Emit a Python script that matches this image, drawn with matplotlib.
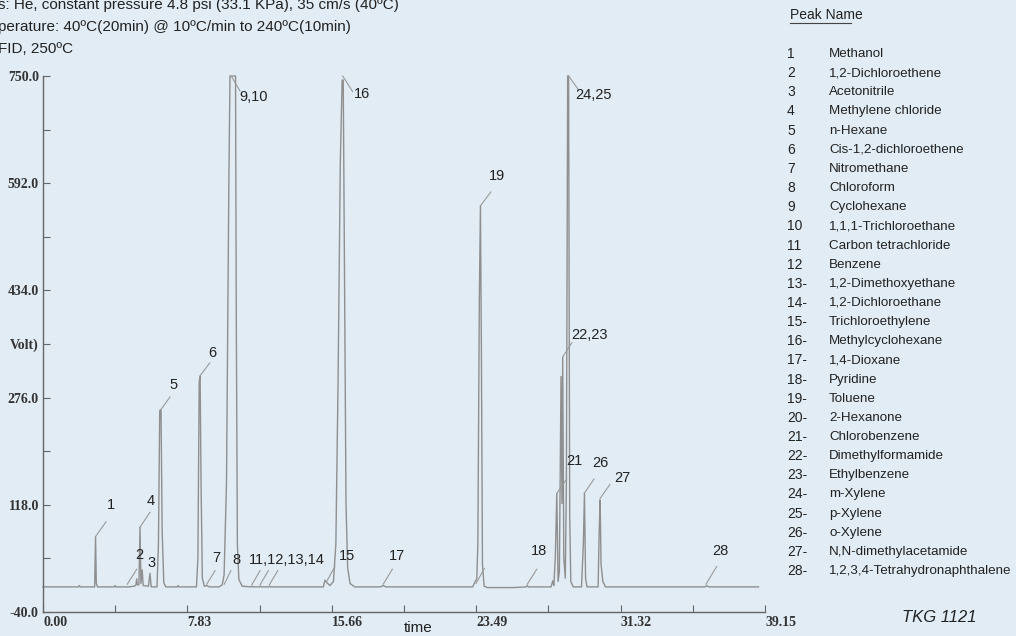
import matplotlib
matplotlib.use('Agg')
import matplotlib.pyplot as plt
from matplotlib.lines import Line2D

# chromatogram trace (time in min, signal in mV)
trace_t = [0.00, 1.92, 1.97, 2.02, 2.80, 2.85, 2.89, 2.96, 3.86, 3.90, 3.94,
           4.60, 4.95, 5.04, 5.08, 5.12, 5.20, 5.26, 5.31, 5.38, 5.43, 5.72, 5.80, 5.87,
           6.18, 6.26, 6.33, 6.40, 6.46, 6.55, 6.66, 7.28, 7.32, 7.36,
           8.32, 8.40, 8.47, 8.52, 8.57, 8.64, 8.75, 8.90, 9.00,
           9.55, 9.72, 9.82, 9.95, 10.08, 10.14, 10.44, 10.48, 10.54, 10.62, 10.80,
           11.30, 11.35, 11.40, 11.75, 11.80, 11.85, 12.25, 12.30, 12.35,
           15.20, 15.29, 15.40, 15.56, 15.75, 15.88, 16.00, 16.12, 16.22, 16.28,
           16.35, 16.43, 16.52, 16.65, 16.90, 18.30, 18.45, 18.60,
           23.30, 23.45, 23.52, 23.58, 23.66, 23.72, 23.77, 23.83, 23.92, 24.10,
           25.50, 26.20, 26.26, 26.32, 27.55, 27.64, 27.70, 27.78, 27.86, 27.93,
           28.00, 28.09, 28.14, 28.18, 28.24, 28.32, 28.38, 28.45, 28.50, 28.56,
           28.62, 28.75, 29.20, 29.30, 29.36, 29.42, 29.50,
           30.10, 30.16, 30.21, 30.26, 30.36, 30.50, 35.90, 36.00, 36.10, 38.80]
trace_v = [-3, -3, -1, -3, -3, 71, 2, -3, -3, -1, -3,
           -3, -2, 0, 9, 0, 0, 85, 2, 22, -1, -2, 17, -3,
           -3, 60, 257, 258, 80, 3, -3, -3, -1, -3,
           -3, 40, 300, 307, 150, 10, -2, -1, -3,
           -3, 0, 15, 150, 600, 750, 750, 400, 60, 8, -2,
           -3, -2, -3, -3, -2, -3, -3, -2, -3,
           -3, 7, 3, -1, 5, 60, 300, 620, 744, 744,
           450, 120, 25, 2, -3, -3, -1, -3,
           -3, 6, 8, 60, 420, 559, 350, 30, -2, -4,
           -4, -3, -1, -3, -3, 6, -1, 40, 135, 5,
           20, 307, 120, 336, 40, 10, 150, 750, 750, 100,
           5, -3, -3, 60, 135, 10, -3,
           -3, 80, 125, 30, 5, -3, -3, -1, -3, -3]

# peak labels: text position and leader line (tip -> end)
lab_text = ['1', '2', '3', '4', '5', '6', '7', '8', '9,10', '11,12,13,14',
            '15', '16', '17', '18', '19', '21', '22,23', '24,25', '26', '27', '28']
lab_x = [3.67, 5.22, 5.86, 5.84, 7.07, 9.20, 9.42, 10.50, 11.40, 13.21,
         16.47, 17.28, 19.21, 26.90, 24.60, 28.81, 29.61, 29.84, 30.20, 31.43, 36.71]
lab_y = [118, 44, 32, 124, 295, 342, 40, 37, 719, 37,
         43, 724, 43, 50, 602, 182, 368, 722, 179, 157, 50]
lead_x0 = [2.87, 4.57, 5.26, 6.38, 8.51, 8.88, 9.83, 10.23, 11.32, 11.77, 12.27,
           15.38, 16.25, 18.45, 26.26, 23.73, 23.48, 27.86, 28.20, 28.50, 29.35, 30.20, 35.95]
lead_y0 = [72, 1, 85, 258, 308, 1, 1, 749, 0, 0, 0,
           5, 750, 1, 1, 559, 2, 135, 337, 750, 135, 127, 1]
lead_x1 = [3.42, 5.08, 5.80, 6.89, 9.04, 9.33, 10.19, 10.68, 11.77, 12.22, 12.73,
           15.83, 16.79, 18.94, 26.77, 24.28, 23.93, 28.40, 28.68, 29.03, 29.88, 30.74, 36.53]
lead_y1 = [93, 23, 107, 277, 327, 21, 21, 728, 21, 21, 21,
           27, 727, 23, 23, 579, 24, 156, 357, 730, 156, 148, 27]

x_major = [0.00, 7.83, 15.66, 23.49, 31.32, 39.15]
x_minor = [3.915, 11.745, 19.575, 27.405, 35.235]
y_ticks = [-40, 39, 118, 197, 276, 355, 434, 513, 592, 671, 750]
y_labels = ['-40.0', '', '118.0', '', '276.0', 'Volt)', '434.0', '', '592.0', '', '750.0']

peak_no = ['1', '2', '3', '4', '5', '6', '7', '8', '9', '10', '11', '12', '13-', '14-',
           '15-', '16-', '17-', '18-', '19-', '20-', '21-', '22-', '23-', '24-', '25-',
           '26-', '27-', '28-']
peak_name = ['Methanol', '1,2-Dichloroethene', 'Acetonitrile', 'Methylene chloride',
             'n-Hexane', 'Cis-1,2-dichloroethene', 'Nitromethane', 'Chloroform',
             'Cyclohexane', '1,1,1-Trichloroethane', 'Carbon tetrachloride', 'Benzene',
             '1,2-Dimethoxyethane', '1,2-Dichloroethane', 'Trichloroethylene',
             'Methylcyclohexane', '1,4-Dioxane', 'Pyridine', 'Toluene', '2-Hexanone',
             'Chlorobenzene', 'Dimethylformamide', 'Ethylbenzene', 'm-Xylene', 'p-Xylene',
             'o-Xylene', 'N,N-dimethylacetamide', '1,2,3,4-Tetrahydronaphthalene']

header = ['s: He, constant pressure 4.8 psi (33.1 KPa), 35 cm/s (40ºC)',
          'perature: 40ºC(20min) @ 10ºC/min to 240ºC(10min)',
          'FID, 250ºC']


def main():
    bg = '#e1ecf4'
    W, H = 1016, 636
    plt.rcParams['font.family'] = ['Liberation Sans', 'DejaVu Sans']
    fig = plt.figure(figsize=(W / 100, H / 100), dpi=100, facecolor=bg)
    ax = fig.add_axes([43 / W, 1 - 612 / H, (765 - 43) / W, (612 - 76) / H])
    ax.set_facecolor(bg)
    ax.patch.set_alpha(0)

    ax.plot(trace_t, trace_v, color='#8f8f8f', lw=1.0, clip_on=False)

    for i in range(len(lead_x0)):
        ax.plot([lead_x0[i], lead_x1[i]], [lead_y0[i], lead_y1[i]],
                color='#9a9a9a', lw=0.8, clip_on=False)
    for i in range(len(lab_text)):
        ax.text(lab_x[i], lab_y[i], lab_text[i], ha='center', va='center',
                fontsize=10.5, color='#222222')

    ax.set_xlim(0, 39.15)
    ax.set_ylim(-40, 750)
    for s in ['top', 'right']:
        ax.spines[s].set_visible(False)
    for s in ['left', 'bottom']:
        ax.spines[s].set_color('#666666')
        ax.spines[s].set_linewidth(1.0)

    ax.set_xticks(x_major)
    ax.set_xticks(x_minor, minor=True)
    ax.set_xticklabels(['%.2f' % v for v in x_major], ha='left',
                       family='Liberation Serif', fontweight='bold', fontsize=10,
                       color='#333333')
    ax.set_yticks(y_ticks)
    ax.set_yticklabels(y_labels, family='Liberation Serif', fontweight='bold',
                       fontsize=10, color='#333333')
    ax.tick_params(axis='both', which='both', direction='in', length=5,
                   width=0.8, color='#666666')
    ax.tick_params(axis='x', pad=3)
    ax.tick_params(axis='y', pad=3)

    fig.text(418 / W, 1 - 628 / H, 'time', ha='center', va='center', fontsize=11,
             color='#222222')

    # header lines (cropped at the left edge in the original)
    for i, line in enumerate(header):
        fig.text(-2 / W, 1 - (5 + 22 * i) / H, line, ha='left', va='center',
                 fontsize=11, color='#222222')

    # peak table
    fig.text(790 / W, 1 - 15 / H, 'Peak Name', ha='left', va='center', fontsize=10,
             color='#222222')
    fig.add_artist(Line2D([790 / W, 851 / W], [1 - 23 / H, 1 - 23 / H],
                          color='#444444', lw=0.8))
    for i in range(len(peak_no)):
        y = 1 - (54 + 19.15 * i) / H
        fig.text(787 / W, y, peak_no[i], ha='left', va='center', fontsize=10,
                 color='#222222')
        fig.text(829 / W, y, peak_name[i], ha='left', va='center', fontsize=9.6,
                 color='#222222')

    fig.text(939 / W, 1 - 618 / H, 'TKG 1121', ha='center', va='center',
             fontsize=12, style='italic', color='#222222')

    fig.savefig('out.png', dpi=100, facecolor=bg)


if __name__ == '__main__':
    main()
